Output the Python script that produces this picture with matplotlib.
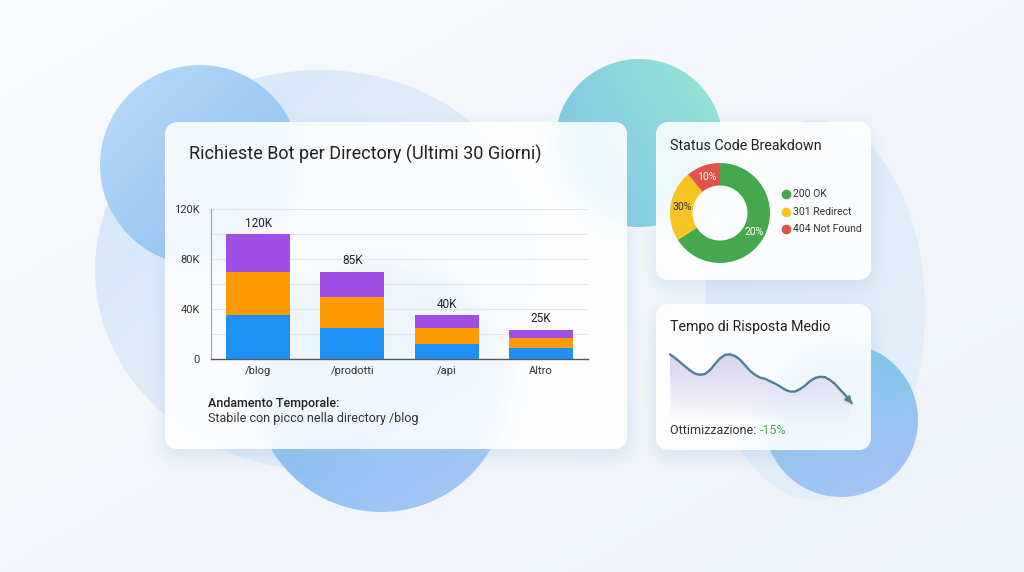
import numpy as np
import matplotlib
matplotlib.use('Agg')
import matplotlib.pyplot as plt
from matplotlib.colors import to_rgb

plt.rcParams['font.family'] = ['Roboto', 'DejaVu Sans']

## dati del grafico a barre
categorie = ['/blog', '/prodotti', '/api', 'Altro']
blu = [35, 25, 12, 8.5]
arancio = [35, 25, 13, 8.5]
viola = [30, 20, 10, 6.5]
etichette = ['120K', '85K', '40K', '25K']
yticks = [0, 40, 80, 120]
ytick_lab = ['0', '40K', '80K', '120K']

## dati della ciambella
stati = ['200 OK', '301 Redirect', '404 Not Found']
quote = [66, 23, 11]
quote_lab = ['20%', '30%', '10%']
col_stati = ['#45a84c', '#f6c423', '#e0524a']

## tempo di risposta medio (ms), un campione ogni passo
tempo = [319, 310, 300, 289, 279, 271, 268, 270, 280, 295, 309, 318, 319, 315, 306, 292,
         278, 268, 261, 258, 252, 246, 239, 231, 226, 226, 232, 241, 252, 260, 263, 262,
         255, 245, 231, 218, 202]
tempo_fine = 190

W, H = 1024, 572
yy, xx = np.mgrid[0:H, 0:W] + 0.5

def rgb(h):
  return np.array(to_rgb(h))

def blob(img, cx, cy, rx, ry, c1, c2, alpha, gdir=(1, 1)):
  d = np.sqrt(((xx - cx) / rx) ** 2 + ((yy - cy) / ry) ** 2)
  m = np.clip((1 - d) * min(rx, ry) + 0.5, 0, 1) * alpha
  gx, gy = np.array(gdir) / np.hypot(*gdir)
  g = np.clip(((xx - cx) * gx + (yy - cy) * gy) / (2 * max(rx, ry)) + 0.5, 0, 1)[..., None]
  col = rgb(c1) * (1 - g) + rgb(c2) * g
  return img * (1 - m[..., None]) + col * m[..., None]

def box_blur(a, r):
  for ax in (0, 1):
    a = np.swapaxes(a, 0, ax)
    pad = np.concatenate([np.repeat(a[:1], r, 0), a, np.repeat(a[-1:], r, 0)], 0)
    cs = np.cumsum(pad, 0)
    cs = np.concatenate([np.zeros_like(cs[:1]), cs], 0)
    a = (cs[2 * r + 1:] - cs[:-2 * r - 1]) / (2 * r + 1)
    a = np.swapaxes(a, 0, ax)
  return a

def rrect(x0, y0, x1, y1, rad):
  cx, cy = (x0 + x1) / 2, (y0 + y1) / 2
  qx = np.abs(xx - cx) - ((x1 - x0) / 2 - rad)
  qy = np.abs(yy - cy) - ((y1 - y0) / 2 - rad)
  sd = np.hypot(np.maximum(qx, 0), np.maximum(qy, 0)) + np.minimum(np.maximum(qx, qy), 0) - rad
  return np.clip(0.5 - sd, 0, 1)

## sfondo
t = (xx / W * 0.5 + yy / H * 0.5)[..., None]
img = rgb('#f9fbfd') * (1 - t) + rgb('#edf2f8') * t
img = blob(img, 320, 270, 225, 200, '#d0e4f8', '#e4eefa', 0.8)
img = blob(img, 815, 310, 110, 190, '#d5e7f8', '#e2eefa', 0.8)
img = blob(img, 200, 165, 100, 100, '#b3d7f7', '#8dc0f0', 1.0)
img = blob(img, 639, 143, 84, 84, '#7cc6e4', '#93e2d6', 1.0, (1, -0.6))
img = blob(img, 381, 385, 127, 127, '#6fb8ea', '#a2c6f6', 1.0, (0.6, 1))
img = blob(img, 841, 420, 77, 77, '#79c6e6', '#a6c3f6', 1.0, (0.4, 1))

cards = [(165, 122, 627, 449), (656, 122, 871, 280), (656, 304, 871, 450)]
blurred = img.copy()
for k in range(3):
  blurred = box_blur(blurred, 12)

for (x0, y0, x1, y1) in cards:
  sh = box_blur(rrect(x0 - 2, y0 + 4, x1 + 2, y1 + 8, 12), 10)
  sh = box_blur(sh, 8)[..., None] * 0.35
  img = img * (1 - sh) + rgb('#a9c6e6') * sh
for (x0, y0, x1, y1) in cards:
  m = rrect(x0, y0, x1, y1, 12)[..., None]
  face = blurred * 0.13 + rgb('#ffffff') * 0.87
  img = img * (1 - m) + face * m

fig = plt.figure(figsize=(10.24, 5.72), dpi=100)
bg = fig.add_axes([0, 0, 1, 1])
bg.imshow(np.clip(img, 0, 1), extent=(0, W, H, 0), interpolation='none')
bg.set_xlim(0, W)
bg.set_ylim(H, 0)
bg.axis('off')

def box(x0, y0, x1, y1):
  return [x0 / W, 1 - y1 / H, (x1 - x0) / W, (y1 - y0) / H]

## testi
bg.text(189, 160, 'Richieste Bot per Directory (Ultimi 30 Giorni)', fontsize=13, color='#222222', va='baseline')
bg.text(208, 407, 'Andamento Temporale:', fontsize=9, fontweight='medium', color='#222222', va='baseline')
bg.text(208, 422, 'Stabile con picco nella directory /blog', fontsize=9, color='#333333', va='baseline')
bg.text(670, 150, 'Status Code Breakdown', fontsize=10.3, color='#222222', va='baseline')
bg.text(670, 331.5, 'Tempo di Risposta Medio', fontsize=10.2, color='#222222', va='baseline')
tt = bg.text(670, 434, 'Ottimizzazione: ', fontsize=9, color='#333333', va='baseline')
bg.annotate('-15%', xycoords=tt, xy=(1, 0), va='bottom', fontsize=9, color='#4caa55')

## barre
ax1 = fig.add_axes(box(211, 209, 588, 359))
ax1.set_facecolor('none')
x = np.arange(len(categorie))
ax1.bar(x, blu, 0.68, color='#1f90f4', zorder=3)
ax1.bar(x, arancio, 0.68, bottom=blu, color='#ff9a02', zorder=3)
tot = np.array(blu) + np.array(arancio)
ax1.bar(x, viola, 0.68, bottom=tot, color='#a04fe4', zorder=3)
for i, lab in enumerate(etichette):
  ax1.annotate(lab, (x[i], tot[i] + viola[i]), xytext=(0, 3), textcoords='offset points',
               ha='center', va='bottom', fontsize=8.5, color='#222222')
ax1.set_xlim(-0.5, 3.5)
ax1.set_ylim(0, 120)
ax1.set_yticks(yticks)
ax1.set_yticklabels(ytick_lab)
ax1.set_yticks([20, 60, 100], minor=True)
ax1.set_xticks(x)
ax1.set_xticklabels(categorie)
ax1.grid(axis='y', which='both', color='#e2e5ea', lw=0.8, zorder=0)
ax1.tick_params(axis='both', which='both', length=0, labelsize=8, colors='#333333')
ax1.tick_params(axis='y', pad=8)
ax1.tick_params(axis='x', pad=5)
for s in ['top', 'right']:
  ax1.spines[s].set_visible(False)
ax1.spines['left'].set_color('#9aa0a8')
ax1.spines['left'].set_linewidth(0.8)
ax1.spines['bottom'].set_color('#555555')
ax1.spines['bottom'].set_linewidth(1.0)

## ciambella
ax2 = fig.add_axes(box(670, 163, 770, 263))
wedges, _ = ax2.pie(quote, colors=col_stati, startangle=90, counterclock=False, radius=1,
                    wedgeprops=dict(width=0.45, edgecolor='none'))
for w, lab, c in zip(wedges, quote_lab, ['white', '#333333', 'white']):
  ang = np.deg2rad((w.theta1 + w.theta2) / 2)
  ax2.text(0.775 * np.cos(ang), 0.775 * np.sin(ang), lab, ha='center', va='center', fontsize=7.5, color=c)
ax2.set_xlim(-1, 1)
ax2.set_ylim(-1, 1)
ax2.axis('off')
for i, (s, c) in enumerate(zip(stati, col_stati)):
  bg.plot(785.7, 194.3 + 17.4 * i, 'o', ms=6, color=c)
  bg.text(793, 194.3 + 17.4 * i, s, fontsize=7.5, color='#333333', va='center')

## linea tempo di risposta
ax3 = fig.add_axes(box(665, 345, 860, 420))
ax3.set_facecolor('none')
xt = np.arange(len(tempo))
poly = ax3.fill_between(xt, tempo, 155, color='none')
grad = np.zeros((100, 2, 4))
grad[..., :3] = rgb('#d8d4ee')
grad[..., 3] = np.linspace(1.0, 0.0, 100)[:, None] ** 0.8
im = ax3.imshow(grad, extent=(0, xt[-1], 155, 320), aspect='auto', origin='upper')
im.set_clip_path(poly.get_paths()[0], transform=ax3.transData)
ax3.plot(xt, tempo, color='#4f8195', lw=1.7, solid_capstyle='round', solid_joinstyle='round')
ax3.annotate('', xy=(xt[-1] + 0.8, tempo_fine), xytext=(xt[-1], tempo[-1]),
             arrowprops=dict(arrowstyle='-|>', color='#4f8195', lw=1.7, mutation_scale=9))
ax3.set_xlim(-1, 38)
ax3.set_ylim(155, 342.5)
ax3.axis('off')

fig.savefig('out.png', dpi=100)
plt.close()
